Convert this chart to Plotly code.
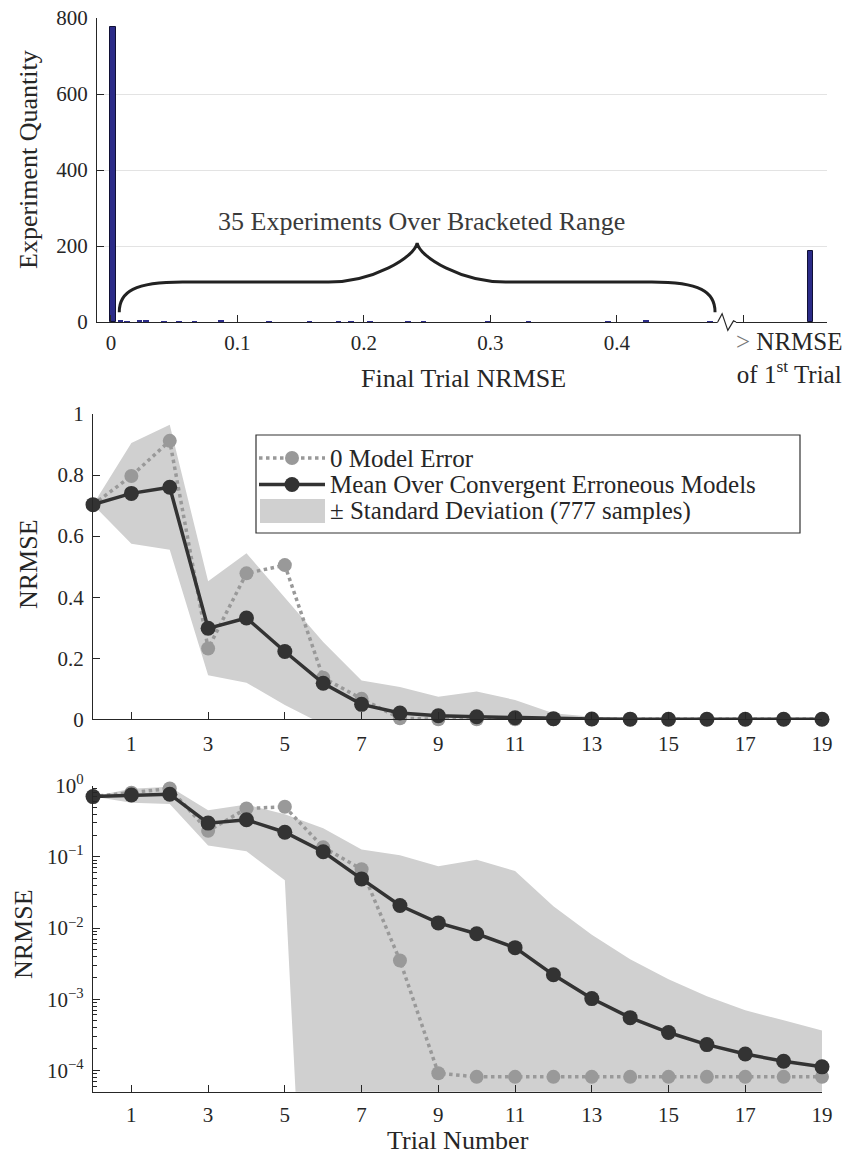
import plotly.graph_objects as go
import numpy as np

# ---------------- data ----------------
# Histogram of final-trial NRMSE (bin centres, counts)
hist_bin_centers = [0.0015, 0.0075, 0.0125, 0.0225, 0.0275, 0.042, 0.054, 0.066, 0.087,
                    0.125, 0.157, 0.18, 0.19, 0.205, 0.235, 0.247, 0.298, 0.33, 0.393,
                    0.423, 0.4735]
hist_counts = [777, 4, 1, 4, 4, 1, 1, 1, 5,
               1, 1, 1, 1, 1, 1, 1, 1, 1, 1,
               3, 1]
overflow_count = 188          # experiments with NRMSE > NRMSE of 1st trial
hist_xticks = [0, 0.1, 0.2, 0.3, 0.4, 0.5]
hist_xticklabels = ["0", "0.1", "0.2", "0.3", "0.4", ""]
hist_yticks = [0, 200, 400, 600, 800]

trials = list(range(20))
mean_err = [0.703, 0.740, 0.760, 0.298, 0.332, 0.222, 0.118, 0.049, 0.0207, 0.0118,
            0.0083, 0.0053, 0.0022, 0.00102, 0.00055, 0.00034, 0.00023, 0.00017,
            0.000134, 0.000112]
std_err = [0.0, 0.165, 0.205, 0.154, 0.212, 0.175, 0.135, 0.078, 0.085, 0.062,
           0.083, 0.058, 0.018, 0.007, 0.0031, 0.00156, 0.00087, 0.00053,
           0.00037, 0.00025]
zero_err = [0.703, 0.797, 0.912, 0.232, 0.478, 0.505, 0.136, 0.067, 0.0035, 0.000091,
            0.000081, 0.000081, 0.000081, 0.000081, 0.000081, 0.000081, 0.000081,
            0.000081, 0.000081, 0.000081]
trial_ticks = [1, 3, 5, 7, 9, 11, 13, 15, 17, 19]

# ---------------- style / layout constants ----------------
W, H = 855, 1162           # browser window
OFF = 8                    # default page (body) margin
FW, FH = W - 2 * OFF, H - 2 * OFF
FONT = "Liberation Serif, Tinos, 'Times New Roman', 'DejaVu Serif', serif"
TXT = "#262626"
AX = "#262626"
BAR = "#2b2b88"
BAND = "#d0d0d0"
GRAY = "#999999"
DARK = "#333333"
TICK_SIZE = 21
TITLE_SIZE = 26

def fx(px):   # window pixel -> paper x
    return (px - OFF) / FW

def fy(py):   # window pixel -> paper y
    return 1 - (py - OFF) / FH

# plot areas in window pixels (left, right, top, bottom)
TOP = (97, 827, 18, 322)
MID = (93, 822, 414, 719.3)
BOT = (93, 822, 785.7, 1091.7)
hist_xrange = [-0.011, 0.566]
hist_yrange = [0, 800]
overflow_pos = 0.553
bar_w = 0.0045

def hx(v):  # histogram x value -> paper
    l, r = TOP[0], TOP[1]
    return fx(l + (v - hist_xrange[0]) / (hist_xrange[1] - hist_xrange[0]) * (r - l))

def hy(c):  # histogram count -> paper
    t, b = TOP[2], TOP[3]
    return fy(b - (c - hist_yrange[0]) / (hist_yrange[1] - hist_yrange[0]) * (b - t))

fig = go.Figure()

# ---------------- histogram ----------------
edge_w = [1.0 if c > 50 else 0 for c in hist_counts]
fig.add_trace(go.Bar(x=hist_bin_centers, y=hist_counts, width=bar_w,
                     marker=dict(color=BAR, line=dict(color="#101035", width=edge_w)),
                     xaxis="x", yaxis="y", showlegend=False))
fig.add_trace(go.Bar(x=[overflow_pos], y=[overflow_count], width=bar_w,
                     marker=dict(color=BAR, line=dict(color="#101035", width=1.0)),
                     xaxis="x", yaxis="y", showlegend=False))

# ---------------- convergence curves ----------------
m = np.array(mean_err)
s = np.array(std_err)
upper = m + s
lower = m - s
lower_log = np.where(lower > 0, lower, 1e-12)
band_x = trials + trials[::-1]
n_samples = hist_counts[0]

NAME_ZERO = "0 Model Error"
NAME_MEAN = "Mean Over Convergent Erroneous Models"
NAME_BAND = f"\u00b1 Standard Deviation ({n_samples} samples)"

for ax_i, low in (("2", lower), ("3", lower_log)):
    fig.add_trace(go.Scatter(x=band_x, y=list(upper) + list(low[::-1]), fill="toself",
                             fillcolor=BAND, mode="lines", line=dict(width=0, color=BAND),
                             name=NAME_BAND, showlegend=False,
                             xaxis="x" + ax_i, yaxis="y" + ax_i, hoverinfo="skip"))
    fig.add_trace(go.Scatter(x=trials, y=zero_err, mode="lines+markers",
                             line=dict(color=GRAY, width=3.5, dash="dot"),
                             marker=dict(size=14, color=GRAY),
                             name=NAME_ZERO, showlegend=False,
                             cliponaxis=False, xaxis="x" + ax_i, yaxis="y" + ax_i))
    fig.add_trace(go.Scatter(x=trials, y=mean_err, mode="lines+markers",
                             line=dict(color=DARK, width=3.5),
                             marker=dict(size=15, color=DARK),
                             name=NAME_MEAN, showlegend=False, cliponaxis=False,
                             xaxis="x" + ax_i, yaxis="y" + ax_i))

# ---------------- axes ----------------
base = dict(showline=True, linecolor=AX, linewidth=1.2, ticks="inside", ticklen=7,
            tickwidth=1, tickcolor=AX, zeroline=False, showgrid=False, mirror=False,
            automargin=False, ticklabeloverflow="allow",
            tickfont=dict(family=FONT, size=TICK_SIZE, color=TXT))

fig.update_layout(
    xaxis=dict(base, domain=[fx(TOP[0]), fx(TOP[1])], range=hist_xrange, anchor="y",
               tickmode="array", tickvals=hist_xticks, ticktext=hist_xticklabels,
               ticklabelstandoff=2),
    yaxis=dict(base, domain=[fy(TOP[3]), fy(TOP[2])], range=hist_yrange, anchor="x",
               tickmode="array", tickvals=hist_yticks, showgrid=True, gridcolor="#e3e3e3",
               gridwidth=1, ticklabelstandoff=4),
    xaxis2=dict(base, domain=[fx(MID[0]), fx(MID[1])], range=[0, 19], anchor="y2",
                tickmode="array", tickvals=trial_ticks, ticklabelstandoff=5),
    yaxis2=dict(base, domain=[fy(MID[3]), fy(MID[2])], range=[0, 1], anchor="x2",
                tickmode="array", tickvals=[0, 0.2, 0.4, 0.6, 0.8, 1],
                ticktext=["0", "0.2", "0.4", "0.6", "0.8", "1"], ticklabelstandoff=4),
    xaxis3=dict(base, domain=[fx(BOT[0]), fx(BOT[1])], range=[0, 19], anchor="y3",
                tickmode="array", tickvals=trial_ticks, ticklabelstandoff=4),
    yaxis3=dict(base, domain=[fy(BOT[3]), fy(BOT[2])], type="log", range=[-4.30, 0],
                anchor="x3", tickmode="array",
                tickvals=[1, 0.1, 0.01, 0.001, 0.0001],
                ticktext=["10<sup>0</sup>", "10<sup>\u22121</sup>", "10<sup>\u22122</sup>",
                          "10<sup>\u22123</sup>", "10<sup>\u22124</sup>"],
                ticklabelstandoff=4,
                minor=dict(ticks="inside", ticklen=4, tickcolor=AX, showgrid=False,
                           tickvals=[k * 10.0 ** e for e in range(-5, 0) for k in range(2, 10)])),
)

# ---------------- annotations ----------------
ann = []
def A(text, px, py, size=TITLE_SIZE, angle=0, color=TXT, anchor="center"):
    ann.append(dict(text=text, x=fx(px), y=fy(py), xref="paper", yref="paper",
                    showarrow=False, textangle=angle, xanchor=anchor, yanchor="middle",
                    font=dict(family=FONT, size=size, color=color)))

A("Experiment Quantity", 28, 160, angle=-90)
A("Final Trial NRMSE", 463, 378)
A("<span style='color:#777'>&gt;</span> NRMSE<br>of 1<sup>st</sup> Trial", 789, 358, size=25)
A(f"{sum(hist_counts[1:])} Experiments Over Bracketed Range", 421, 221, color="#3a3a3a")
A("NRMSE", 28, 564, angle=-90)
A("NRMSE", 24, 934, angle=-90)
A("Trial Number", 458, 1140)

# ---------------- brace over bracketed range ----------------
xL, xR = 0.0066, 0.4775
xM = (xL + xR) / 2
yE, yF, yT = 26, 105, 208
def P(x, y):
    return f"{hx(x):.5f},{hy(y):.5f}"
brace = (f"M {P(xL, yE)} C {P(xL, 80)} {P(xL + 0.012, yF)} {P(xL + 0.05, yF)} "
         f"L {P(xM - 0.07, yF)} C {P(xM - 0.035, yF)} {P(xM - 0.002, 170)} {P(xM, yT)} "
         f"C {P(xM + 0.002, 170)} {P(xM + 0.035, yF)} {P(xM + 0.07, yF)} "
         f"L {P(xR - 0.05, yF)} C {P(xR - 0.012, yF)} {P(xR, 80)} {P(xR, yE)}")
shapes = [dict(type="path", path=brace, xref="paper", yref="paper",
               line=dict(color="#222222", width=3))]

# axis break (zig-zag) on histogram x axis
bx0, bx1 = 0.4796, 0.4941
shapes.append(dict(type="rect", xref="paper", yref="paper", x0=hx(bx0), x1=hx(bx1),
                   y0=hy(-4), y1=hy(4), fillcolor="white", line=dict(width=0), layer="above"))
zz = (f"M {P(bx0, 0)} L {P(bx0 + 0.0035, 22)} L {P(bx0 + 0.008, -22)} "
      f"L {P(bx0 + 0.0125, 3)} L {P(bx1, 0)}")
shapes.append(dict(type="path", path=zz, xref="paper", yref="paper",
                   line=dict(color=AX, width=1.2), layer="above"))

# ---------------- legend box (drawn to match reference metrics) ----------------
LG = dict(x0=256, x1=800, y0=435, y1=533)
rows = [458, 484.5, 511]
sx0, sx1 = 259, 325
sxm = (sx0 + sx1) / 2
shapes.append(dict(type="rect", xref="paper", yref="paper", x0=fx(LG["x0"]), x1=fx(LG["x1"]),
                   y0=fy(LG["y1"]), y1=fy(LG["y0"]), fillcolor="white",
                   line=dict(color="#333333", width=1.2), layer="above"))
# row 1: dotted gray line with marker
shapes.append(dict(type="line", xref="paper", yref="paper", x0=fx(sx0), x1=fx(sx1),
                   y0=fy(rows[0]), y1=fy(rows[0]), line=dict(color=GRAY, width=3.5, dash="dot"),
                   layer="above"))
r = 7
shapes.append(dict(type="circle", xref="paper", yref="paper", x0=fx(sxm - r), x1=fx(sxm + r),
                   y0=fy(rows[0] + r), y1=fy(rows[0] - r), fillcolor=GRAY,
                   line=dict(width=0), layer="above"))
# row 2: solid dark line with marker
shapes.append(dict(type="line", xref="paper", yref="paper", x0=fx(sx0), x1=fx(sx1),
                   y0=fy(rows[1]), y1=fy(rows[1]), line=dict(color=DARK, width=3.5),
                   layer="above"))
r = 7.5
shapes.append(dict(type="circle", xref="paper", yref="paper", x0=fx(sxm - r), x1=fx(sxm + r),
                   y0=fy(rows[1] + r), y1=fy(rows[1] - r), fillcolor=DARK,
                   line=dict(width=0), layer="above"))
# row 3: band swatch
shapes.append(dict(type="rect", xref="paper", yref="paper", x0=fx(sx0 + 1), x1=fx(sx1),
                   y0=fy(rows[2] + 12), y1=fy(rows[2] - 12), fillcolor=BAND,
                   line=dict(width=0), layer="above"))
for name, yy in zip([NAME_ZERO, NAME_MEAN, NAME_BAND], rows):
    A(name, 328, yy, size=25, anchor="left")

fig.update_layout(
    width=FW, height=FH, margin=dict(l=0, r=0, t=0, b=0, autoexpand=False),
    paper_bgcolor="white", plot_bgcolor="white",
    annotations=ann, shapes=shapes, bargap=0, showlegend=False,
    font=dict(family=FONT, color=TXT),
)

fig.write_html("out.html")
